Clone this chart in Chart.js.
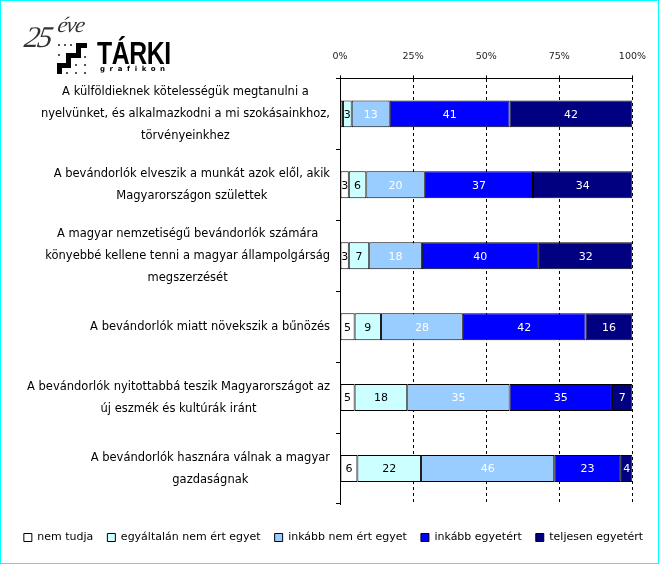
<!DOCTYPE html>
<html>
<head>
<meta charset="utf-8">
<script src="https://cdn.jsdelivr.net/npm/chart.js@4.4.1/dist/chart.umd.min.js"></script>
<style>
  html, body { margin: 0; padding: 0; background: #fff; }
  #wrap { position: relative; width: 659px; height: 564px; }
  #frame { position: absolute; left: 0; top: 0; width: 659px; height: 564px; box-sizing: border-box; border: 1px solid #00ffff; pointer-events: none; }
  .logo { position: absolute; white-space: nowrap; }
  #ev25 { left: 25px; top: 20px; font: italic 30px "Liberation Serif", serif; color: #333; letter-spacing: -2px; transform: skewX(-10deg); }
  #eve { left: 58px; top: 12px; font: italic 22px "Liberation Serif", serif; color: #333; letter-spacing: -1px; transform: skewX(-10deg); }
  #tarki { left: 97px; top: 36px; font: bold 31px "Liberation Sans", sans-serif; color: #000; letter-spacing: -0.5px; transform: scaleX(0.8); transform-origin: left top; }
  #graf { left: 100px; top: 65px; font: bold 7px "DejaVu Sans", sans-serif; color: #000; letter-spacing: 4.6px; }
  .blk { position: absolute; background: #000; }
  .dot { position: absolute; width: 2px; height: 2px; background: #555; }
</style>
</head>
<body>
<div id="wrap">
  <canvas id="chart" width="659" height="564"></canvas>
  <div class="logo" id="ev25">25</div>
  <div class="logo" id="eve">éve</div>
  <div class="logo" id="tarki">TÁRKI</div>
  <div class="logo" id="graf">grafikon</div>
  <!-- staircase mark -->
  <div class="blk" style="left:80px;top:43px;width:7px;height:5px"></div>
  <div class="blk" style="left:76px;top:43px;width:5px;height:15px"></div>
  <div class="blk" style="left:66px;top:53px;width:14px;height:5px"></div>
  <div class="blk" style="left:66px;top:53px;width:5px;height:15px"></div>
  <div class="blk" style="left:57px;top:63px;width:13px;height:5px"></div>
  <div class="blk" style="left:57px;top:63px;width:5px;height:11px"></div>
  <div class="dot" style="left:58px;top:44px"></div>
  <div class="dot" style="left:64px;top:44px"></div>
  <div class="dot" style="left:70px;top:44px"></div>
  <div class="dot" style="left:58px;top:54px"></div>
  <div class="dot" style="left:84px;top:56px"></div>
  <div class="dot" style="left:75px;top:64px"></div>
  <div class="dot" style="left:84px;top:64px"></div>
  <div class="dot" style="left:66px;top:72px"></div>
  <div class="dot" style="left:75px;top:72px"></div>
  <div class="dot" style="left:84px;top:72px"></div>
  <div id="frame"></div>
</div>
<script>
// Statements (each line of a label is an array item)
const statements = [
    ['A külföldieknek kötelességük megtanulni a', 'nyelvünket, és alkalmazkodni a mi szokásainkhoz,', 'törvényeinkhez'],
    ['A bevándorlók elveszik a munkát azok elől, akik', 'Magyarországon születtek'],
    ['A magyar nemzetiségű bevándorlók számára', 'könyebbé kellene tenni a magyar állampolgárság', 'megszerzését'],
    ['A bevándorlók miatt növekszik a bűnözés'],
    ['A bevándorlók nyitottabbá teszik Magyarországot az', 'új eszmék és kultúrák iránt'],
    ['A bevándorlók hasznára válnak a magyar', 'gazdaságnak']
];

// Answers in percent
const nemTudja        = [1, 3, 3, 5, 5, 6];
const egyaltalanNem   = [3, 6, 7, 9, 18, 22];
const inkabbNem       = [13, 20, 18, 28, 35, 46];
const inkabbEgyetert  = [41, 37, 40, 42, 35, 23];
const teljesenEgyetert = [42, 34, 32, 16, 7, 4];

const percentTicks = [0, 25, 50, 75, 100];

const seriesNames = ['nem tudja', 'egyáltalán nem ért egyet', 'inkább nem ért egyet', 'inkább egyetért', 'teljesen egyetért'];
const seriesValues = [nemTudja, egyaltalanNem, inkabbNem, inkabbEgyetert, teljesenEgyetert];
const seriesColors = ['#ffffff', '#ccffff', '#99ccff', '#0000ff', '#000080'];
const labelColors = ['#000', '#000', '#fff', '#fff', '#fff'];

const FONT = '"DejaVu Sans", Tahoma, sans-serif';

// rows are shown as 100% stacked bars
const rowTotals = statements.map((s, i) => seriesValues.reduce((sum, arr) => sum + arr[i], 0));

const datasets = seriesValues.map((vals, d) => ({
    label: seriesNames[d],
    data: vals.map((v, i) => v / rowTotals[i] * 100),
    raw: vals,
    backgroundColor: seriesColors[d],
    borderColor: '#000',
    borderWidth: 1,
    borderSkipped: false,
    barPercentage: 0.38,
    categoryPercentage: 1
}));

// numbers inside the segments
const valueLabels = {
    id: 'valueLabels',
    afterDatasetsDraw(chart) {
        const ctx = chart.ctx;
        ctx.save();
        ctx.font = '11px ' + FONT;
        ctx.textAlign = 'center';
        ctx.textBaseline = 'middle';
        chart.data.datasets.forEach((ds, d) => {
            chart.getDatasetMeta(d).data.forEach((bar, i) => {
                const v = ds.raw[i];
                if (v < 2) return;
                ctx.fillStyle = labelColors[d];
                ctx.fillText(String(v), (bar.x + bar.base) / 2, bar.y + 1);
            });
        });
        ctx.restore();
    }
};

// category texts: block right aligned, lines centred inside the block
const statementLabels = {
    id: 'statementLabels',
    afterDraw(chart) {
        const ctx = chart.ctx;
        const yScale = chart.scales.y;
        ctx.save();
        ctx.font = '11.5px ' + FONT;
        ctx.fillStyle = '#000';
        ctx.textAlign = 'center';
        ctx.textBaseline = 'middle';
        const right = yScale.right - 10;
        const lineH = 22;
        statements.forEach((lines, i) => {
            const w = Math.max(...lines.map(l => ctx.measureText(l).width));
            const cx = right - w / 2;
            const cy = yScale.getPixelForTick(i);
            lines.forEach((l, k) => {
                ctx.fillText(l, cx, cy + (k - (lines.length - 1) / 2) * lineH);
            });
        });
        ctx.restore();
    }
};

const whiteBg = {
    id: 'whiteBg',
    beforeDraw(chart) {
        const ctx = chart.ctx;
        ctx.save();
        ctx.fillStyle = '#fff';
        ctx.fillRect(0, 0, chart.width, chart.height);
        ctx.restore();
    }
};

// empty axes that only reserve room (right margin, gap above legend)
const spacer = size => ({
    display: true,
    ticks: { display: false },
    grid: { display: false },
    border: { display: false },
    afterFit(scale) {
        if (scale.isHorizontal()) scale.height = size; else scale.width = size;
    }
});

new Chart(document.getElementById('chart').getContext('2d'), {
    type: 'bar',
    data: {
        labels: statements,
        datasets: datasets
    },
    options: {
        indexAxis: 'y',
        responsive: false,
        animation: false,
        devicePixelRatio: 1,
        layout: { padding: { top: 38, right: 0, left: 8, bottom: 11 } },
        plugins: {
            legend: {
                position: 'bottom',
                labels: {
                    boxWidth: 8,
                    boxHeight: 8,
                    padding: 14,
                    color: '#000',
                    font: { family: FONT, size: 11 }
                }
            },
            tooltip: { enabled: false }
        },
        scales: {
            x: {
                position: 'top',
                stacked: true,
                min: 0,
                max: 100,
                afterBuildTicks(scale) {
                    scale.ticks = percentTicks.map(v => ({ value: v }));
                },
                ticks: {
                    padding: 13,
                    color: '#222',
                    font: { family: FONT, size: 9.5 },
                    callback: v => v + '%'
                },
                grid: {
                    color: '#000',
                    lineWidth: 1,
                    tickLength: 3,
                    tickColor: '#000'
                },
                border: { display: true, color: '#000', width: 1, dash: [3, 3] }
            },
            y: {
                stacked: true,
                afterFit(scale) { scale.width = 332; },
                ticks: { display: false },
                grid: {
                    offset: true,
                    drawOnChartArea: false,
                    tickLength: 4,
                    color: '#000'
                },
                border: { display: true, color: '#000', width: 1 }
            },
            xPad: Object.assign({ type: 'linear', axis: 'x', position: 'bottom' }, spacer(14)),
            yPad: Object.assign({ type: 'linear', axis: 'y', position: 'right' }, spacer(23))
        }
    },
    plugins: [whiteBg, valueLabels, statementLabels]
});
</script>
</body>
</html>
